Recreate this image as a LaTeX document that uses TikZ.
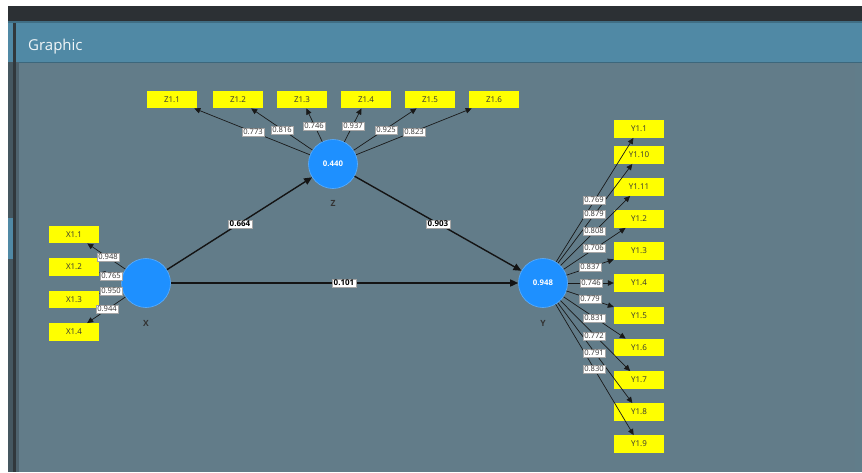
\documentclass[tikz,border=0pt]{standalone}
\usepackage{fontspec}
\setmainfont{Open Sans}
\usetikzlibrary{arrows.meta}
\definecolor{darkbar}{HTML}{2C3034}
\definecolor{headerblue}{HTML}{5089A5}
\definecolor{bodygray}{HTML}{627C89}
\definecolor{lvblue}{HTML}{1E90FF}
\definecolor{lvedge}{HTML}{5AAEFF}
\definecolor{indyellow}{HTML}{FFFF00}
\definecolor{txtdark}{HTML}{333333}
\tikzset{
  ind/.style={rectangle, fill=indyellow, minimum width=50pt, minimum height=17.5pt, inner sep=0pt, font=\fontsize{8}{9}\selectfont, text=txtdark},
  lv/.style={circle, fill=lvblue, draw=lvedge, line width=0.6pt, minimum size=49pt, inner sep=0pt, font=\fontsize{7.8}{9}\selectfont\bfseries, text=white},
  lvname/.style={font=\fontsize{8.5}{9}\selectfont\bfseries, text=txtdark},
  load/.style={draw=black!90, line width=0.7pt, -{Triangle[length=6pt,width=5.5pt]}},
  struct/.style={draw=black!92, line width=1.4pt, -{Triangle[length=8pt,width=7pt]}},
  loadlbl/.style={fill=white, draw=gray!70, line width=0.3pt, inner xsep=1.2pt, inner ysep=1.4pt, font=\fontsize{7.6}{8}\selectfont, text=txtdark},
  pathlbl/.style={fill=white, draw=gray!70, line width=0.3pt, inner xsep=1.5pt, inner ysep=1.3pt, font=\fontsize{8}{9}\selectfont\bfseries, text=black}
}
\begin{document}
\begin{tikzpicture}[x=1pt,y=-1pt]
\useasboundingbox (0,0) rectangle (862,472);
% window chrome
\fill[white] (0,0) rectangle (862,472);
\fill[darkbar] (8,6) rectangle (862,21);
\fill[headerblue!80!black] (8,21) rectangle (862,22.5);
\fill[headerblue] (8,22.5) rectangle (862,62);
\fill[headerblue!75!black] (19,61.5) rectangle (862,63);
\fill[bodygray] (19,63) rectangle (862,472);
\fill[bodygray!95!headerblue] (855,63) rectangle (862,472);
\fill[bodygray!70!black] (8,62) rectangle (13,472);
\fill[headerblue] (8,218) rectangle (13,259);
\fill[darkbar!90!bodygray] (13,22.5) rectangle (15.5,472);
\fill[bodygray!80!black] (15.5,62) rectangle (19,472);
\node[anchor=base west, font=\fontsize{15}{18}\selectfont, text=white!92!headerblue, inner sep=0pt] (title) at (28,50) {Graphic};

% latent variables
\node[lv] (Z) at (333,164) {0.440};
\node[lv] (X) at (146,283) {};
\node[lv] (Y) at (543,283) {0.948};
\node[lvname] (Zn) at (333,203) {Z};
\node[lvname] (Xn) at (146,323) {X};
\node[lvname] (Yn) at (543,323) {Y};

% Z indicators
\node[ind] (z1) at (172,99.5) {Z1.1};
\node[ind] (z2) at (238,99.5) {Z1.2};
\node[ind] (z3) at (302,99.5) {Z1.3};
\node[ind] (z4) at (366,99.5) {Z1.4};
\node[ind] (z5) at (430,99.5) {Z1.5};
\node[ind] (z6) at (494,99.5) {Z1.6};

% X indicators
\node[ind] (x1) at (74,234.5) {X1.1};
\node[ind] (x2) at (74,267) {X1.2};
\node[ind] (x3) at (74,299.5) {X1.3};
\node[ind] (x4) at (74,332) {X1.4};

% Y indicators
\node[ind] (y1) at (639,129) {Y1.1};
\node[ind] (y10) at (639,155) {Y1.10};
\node[ind] (y11) at (639,187) {Y1.11};
\node[ind] (y2) at (639,219) {Y1.2};
\node[ind] (y3) at (639,251) {Y1.3};
\node[ind] (y4) at (639,283) {Y1.4};
\node[ind] (y5) at (639,315.5) {Y1.5};
\node[ind] (y6) at (639,347.5) {Y1.6};
\node[ind] (y7) at (639,380) {Y1.7};
\node[ind] (y8) at (639,412) {Y1.8};
\node[ind] (y9) at (639,444) {Y1.9};

% loading arrows
\foreach \t in {z1,z2,z3,z4,z5,z6} \draw[load] (Z) -- (\t);
\foreach \t in {x1,x2,x3,x4} \draw[load] (X) -- (\t);
\foreach \t in {y1,y10,y11,y2,y3,y4,y5,y6,y7,y8,y9} \draw[load] (Y) -- (\t);

% structural arrows
\draw[struct] (X) -- (Z);
\draw[struct] (Z) -- (Y);
\draw[struct] (X) -- (Y);

% loading labels
\node[loadlbl] (lz1) at (253,132) {0.773};
\node[loadlbl] (lz2) at (282,130) {0.816};
\node[loadlbl] (lz3) at (314,126) {0.746};
\node[loadlbl] (lz4) at (353,126) {0.937};
\node[loadlbl] (lz5) at (386,130) {0.925};
\node[loadlbl] (lz6) at (414,132) {0.823};

\node[loadlbl] (lx1) at (108,257) {0.948};
\node[loadlbl] (lx2) at (111,276) {0.765};
\node[loadlbl] (lx3) at (111,291) {0.950};
\node[loadlbl] (lx4) at (107,309) {0.944};

\node[loadlbl] (ly1) at (594,200) {0.769};
\node[loadlbl] (ly10) at (594,214) {0.879};
\node[loadlbl] (ly11) at (594,231) {0.808};
\node[loadlbl] (ly2) at (594,248) {0.706};
\node[loadlbl] (ly3) at (590,267) {0.837};
\node[loadlbl] (ly4) at (591,283) {0.746};
\node[loadlbl] (ly5) at (590,299) {0.779};
\node[loadlbl] (ly6) at (594,318) {0.831};
\node[loadlbl] (ly7) at (594,336) {0.772};
\node[loadlbl] (ly8) at (594,353) {0.791};
\node[loadlbl] (ly9) at (594,369) {0.830};

% path coefficients
\node[pathlbl] (pxz) at (240,224) {0.664};
\node[pathlbl] (pzy) at (438,224) {0.903};
\node[pathlbl] (pxy) at (344,283) {0.101};
\end{tikzpicture}
\end{document}
